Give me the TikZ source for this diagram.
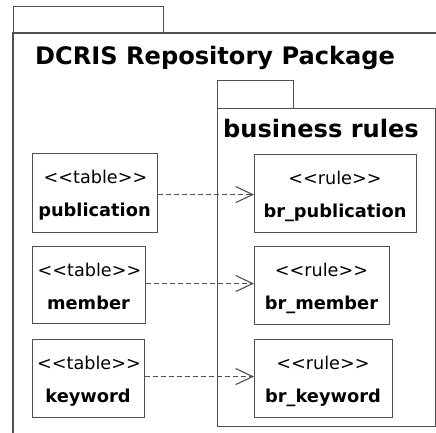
\documentclass[tikz,border=0pt]{standalone}
\usepackage{fontspec}
\setmainfont{DejaVu Sans}
\usetikzlibrary{arrows.meta}
\definecolor{linegray}{HTML}{505050}
\newcommand{\lt}{<\kern0pt}
\newcommand{\gt}{>\kern0pt}
\begin{document}
\begin{tikzpicture}[x=1pt,y=-1pt,
  box/.style={draw=linegray, line width=1.1pt, fill=white, inner sep=0pt, anchor=north west},
  stereo/.style={anchor=base, font=\fontsize{17.6}{20}\selectfont, inner sep=0pt},
  nametext/.style={anchor=base, font=\fontsize{17.8}{20}\selectfont\bfseries, inner sep=0pt},
  pkgtitle/.style={anchor=base west, font=\fontsize{24.1}{28}\selectfont\bfseries, inner sep=0pt},
  dep/.style={draw=linegray, line width=1.1pt, dash pattern=on 5pt off 3pt,
    -{Straight Barb[length=17pt,width=16pt]}},
  ]
\useasboundingbox (0,0) rectangle (436,432);
% outer package
\node[box, minimum width=150pt, minimum height=27pt] (otab) at (13,6) {};
\draw[draw=linegray, line width=1.1pt] (13,445) -- (13,33) -- (445,33);
\node[pkgtitle] (otitle) at (35,64) {DCRIS Repository Package};
% inner package
\node[box, minimum width=76pt, minimum height=28pt] (itab) at (217,80) {};
\node[box, minimum width=218pt, minimum height=318pt] (ibody) at (217,108) {};
\node[pkgtitle] (ititle) at (223,137) {business rules};
% tables
\node[box, minimum width=125pt, minimum height=79pt] (t1) at (32,153) {};
\node[box, minimum width=113pt, minimum height=77pt] (t2) at (32,246) {};
\node[box, minimum width=112pt, minimum height=78pt] (t3) at (32,339) {};
\node[stereo] (t1s) at (95.5,183) {\lt\lt table\gt\gt};
\node[nametext] (t1n) at (94.5,216) {publication};
\node[stereo] (t2s) at (89.5,276) {\lt\lt table\gt\gt};
\node[nametext] (t2n) at (88.5,309) {member};
\node[stereo] (t3s) at (89,369) {\lt\lt table\gt\gt};
\node[nametext] (t3n) at (88,402) {keyword};
% rules
\node[box, minimum width=162pt, minimum height=78pt] (r1) at (254,154) {};
\node[box, minimum width=135pt, minimum height=78pt] (r2) at (254,246) {};
\node[box, minimum width=138pt, minimum height=78pt] (r3) at (254,339) {};
\node[stereo] (r1s) at (335,184) {\lt\lt rule\gt\gt};
\node[nametext] (r1n) at (335,217) {br\_publication};
\node[stereo] (r2s) at (321.5,276) {\lt\lt rule\gt\gt};
\node[nametext] (r2n) at (321.5,309) {br\_member};
\node[stereo] (r3s) at (323,369) {\lt\lt rule\gt\gt};
\node[nametext] (r3n) at (323,402) {br\_keyword};
% dependencies
\draw[dep] ([yshift=-1.5pt]t1.east) -- ([yshift=-1.5pt]t1.east -| r1.west);
\draw[dep] ([yshift=1.5pt]t2.east) -- ([yshift=1.5pt]t2.east -| r2.west);
\draw[dep] ([yshift=2pt]t3.east) -- ([yshift=2pt]t3.east -| r3.west);
\end{tikzpicture}
\end{document}
